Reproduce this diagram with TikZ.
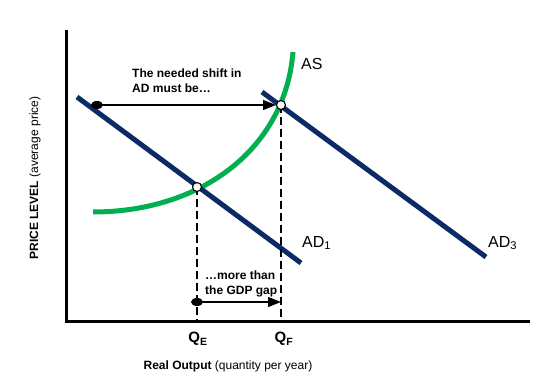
\documentclass[tikz,border=0pt]{standalone}
\usepackage{fontspec}
\setmainfont{Liberation Sans}
\usetikzlibrary{arrows.meta,shapes.geometric}
\definecolor{navy}{HTML}{0B2A66}
\definecolor{asgreen}{HTML}{00B050}
\begin{document}
\begin{tikzpicture}[x=1pt,y=-1pt,
  axisline/.style={line width=3pt,black},
  adline/.style={line width=5pt,navy},
  asline/.style={line width=5pt,asgreen},
  guide/.style={line width=1.1pt,dash pattern=on 8pt off 4pt},
  shiftarrow/.style={line width=1.4pt,-{Triangle[length=13pt,width=10pt]}},
  startdot/.style={ellipse,fill=black,inner sep=0pt,minimum width=12pt,minimum height=8pt},
  eqpt/.style={circle,draw=black,fill=white,line width=1.1pt,inner sep=0pt,minimum size=9pt},
  note/.style={font=\fontsize{12}{14.5}\selectfont\bfseries,align=left,anchor=north west,inner sep=0pt},
  curvelabel/.style={font=\fontsize{16}{18}\selectfont,anchor=west,inner sep=0pt},
  qlabel/.style={font=\fontsize{15}{17}\selectfont\bfseries,inner sep=0pt}]
\useasboundingbox (0,0) rectangle (544,382);
% axes
\coordinate (top) at (66,30);
\coordinate (origin) at (66,322);
\coordinate (right) at (530,322);
\draw[axisline] (top) -- (origin) -- (right);
% AS curve
\draw[asline] (93,212) .. controls (200,212) and (285,150) .. (293,52);
% AD lines
\coordinate (ad1a) at (77,97);
\coordinate (ad1b) at (301,263);
\coordinate (ad3a) at (262,92);
\coordinate (ad3b) at (486,257);
\draw[adline] (ad1a) -- (ad1b);
\draw[adline] (ad3a) -- (ad3b);
% equilibrium points
\coordinate (E) at (197,187);
\coordinate (F) at (281,105);
\coordinate (Eb) at (197,322);
\coordinate (Fb) at (281,322);
\draw[guide] (E) -- (Eb);
\draw[guide] (F) -- (Fb);
% top arrow
\node[startdot] (d1) at (97,105) {};
\draw[shiftarrow] (d1.center) -- (276,105) coordinate (a1);
% bottom arrow
\node[startdot] (d2) at (197,302) {};
\draw[shiftarrow] (d2.center) -- (281,302) coordinate (a2);
\node[eqpt] (Ept) at (E) {};
\node[eqpt] (Fpt) at (F) {};
% notes
\node[note] (n1) at (132,69) {The needed shift in\\AD must be…};
\node[note] (n2) at (205,271) {…more than\\the GDP gap};
% curve labels
\node[curvelabel] (las) at (301,64) {AS};
\node[curvelabel] (lad1) at (302,243) {AD\textsubscript{1}};
\node[curvelabel] (lad3) at (488,243) {AD\textsubscript{3}};
% Q labels
\node[qlabel] (qe) at (198,339) {Q\textsubscript{E}};
\node[qlabel] (qf) at (284,339) {Q\textsubscript{F}};
% axis titles
\node[font=\fontsize{12}{14}\selectfont,inner sep=0pt] (xt) at (228,366) {\textbf{Real Output} (quantity per year)};
\node[font=\fontsize{12}{14}\selectfont,inner sep=0pt,rotate=90] (yt) at (35,178) {\textbf{PRICE LEVEL} (average price)};
\end{tikzpicture}
\end{document}
